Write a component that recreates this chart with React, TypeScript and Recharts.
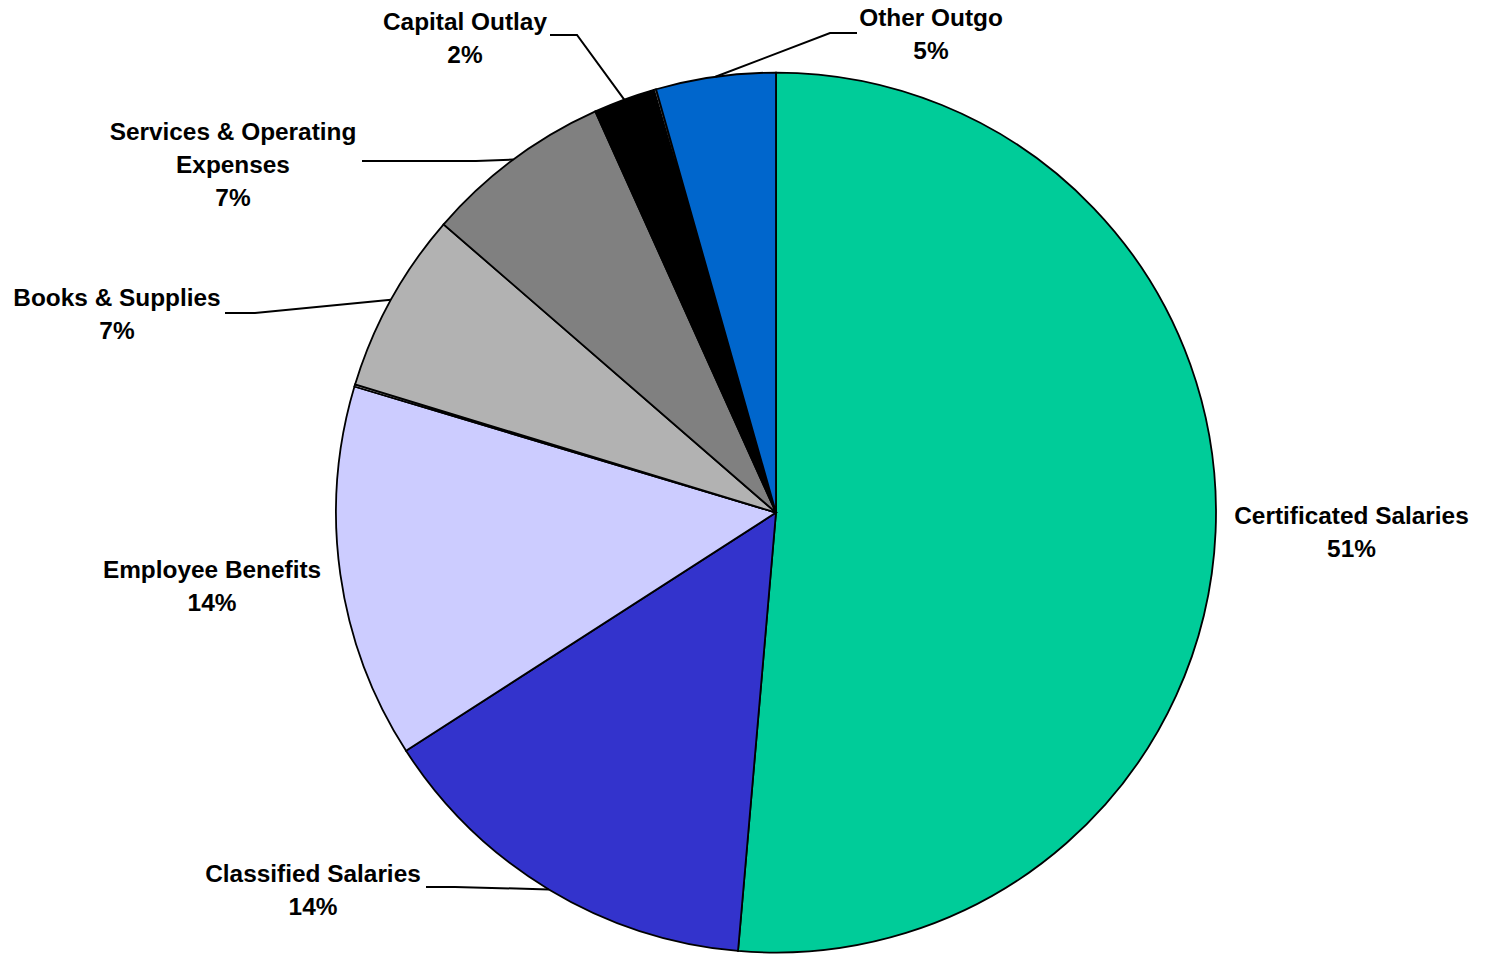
import React from 'react';
import { PieChart, Pie, Cell } from 'recharts';

// slice order runs clockwise from 12 o'clock
const categories = [
  'Certificated Salaries',
  'Classified Salaries',
  'Employee Benefits',
  '',
  'Books & Supplies',
  'Services & Operating\nExpenses',
  'Capital Outlay',
  '',
  'Other Outgo',
];
const shares = [51.34, 14.51, 13.72, 0.08, 6.66, 6.89, 2.26, 0.08, 4.39];
const shareLabels = ['51%', '14%', '14%', '', '7%', '7%', '2%', '', '5%'];

const colors = ['#00CC99', '#3333CC', '#CCCCFF', '#D8D8D8', '#B2B2B2', '#808080', '#000000', '#C8C8C8', '#0066CC'];

// label placement relative to the pie centre (text centre of first line, optional leader elbow + end)
const labelSpots: ({ tx: number; ty: number; elbow?: [number, number]; endX?: number } | null)[] = [
  { tx: 575.5, ty: 2.4 },
  { tx: -463, ty: 360.4, elbow: [-321, 374.4], endX: -350 },
  { tx: -564, ty: 56.4 },
  null,
  { tx: -659, ty: -215.6, elbow: [-521, -199.6], endX: -551 },
  { tx: -543, ty: -381.6, elbow: [-300, -351.6], endX: -414 },
  { tx: -311, ty: -491.6, elbow: [-199, -477.6], endX: -226 },
  null,
  { tx: 155, ty: -495.6, elbow: [54, -479.6], endX: 81 },
];

const data = categories.map((name, i) => ({ name, value: shares[i], pct: shareLabels[i] }));

const RAD = Math.PI / 180;
const LINE_H = 33;

const renderLabel = (props: any) => {
  const { cx, cy, midAngle, outerRadius, index } = props;
  const spot = labelSpots[index];
  if (!spot) return <g />;
  const lines = [...categories[index].split('\n'), shareLabels[index]];
  const x = cx + spot.tx;
  const y0 = cy + spot.ty + 8.5;
  let leader = null;
  if (spot.elbow && spot.endX !== undefined) {
    const ax = cx + outerRadius * Math.cos(-midAngle * RAD);
    const ay = cy + outerRadius * Math.sin(-midAngle * RAD);
    const ex = cx + spot.elbow[0];
    const ey = cy + spot.elbow[1];
    leader = (
      <polyline
        points={`${ax},${ay} ${ex},${ey} ${cx + spot.endX},${ey}`}
        fill="none"
        stroke="#000"
        strokeWidth={2}
      />
    );
  }
  return (
    <g>
      {leader}
      <text
        x={x}
        y={y0}
        textAnchor="middle"
        fill="#000"
        fontFamily="'Liberation Sans', Arial, sans-serif"
        fontWeight="bold"
        fontSize={24.4}
      >
        {lines.map((t, i) => (
          <tspan key={i} x={x} y={y0 + i * LINE_H}>
            {t}
          </tspan>
        ))}
      </text>
    </g>
  );
};

export default function App() {
  return (
    <div style={{ position: 'absolute', left: 0, top: 0, background: '#fff' }}>
      <PieChart width={1490} height={955} margin={{ top: 0, right: 0, bottom: 0, left: 0 }}>
        <Pie
          data={data}
          dataKey="value"
          nameKey="name"
          cx={776}
          cy={512.6}
          outerRadius={440}
          startAngle={90}
          endAngle={-270}
          stroke="#000"
          strokeWidth={1.8}
          label={renderLabel}
          labelLine={false}
          isAnimationActive={false}
        >
          {data.map((d, i) => (
            <Cell key={i} fill={colors[i]} stroke="#000" strokeWidth={1.8} />
          ))}
        </Pie>
      </PieChart>
    </div>
  );
}
